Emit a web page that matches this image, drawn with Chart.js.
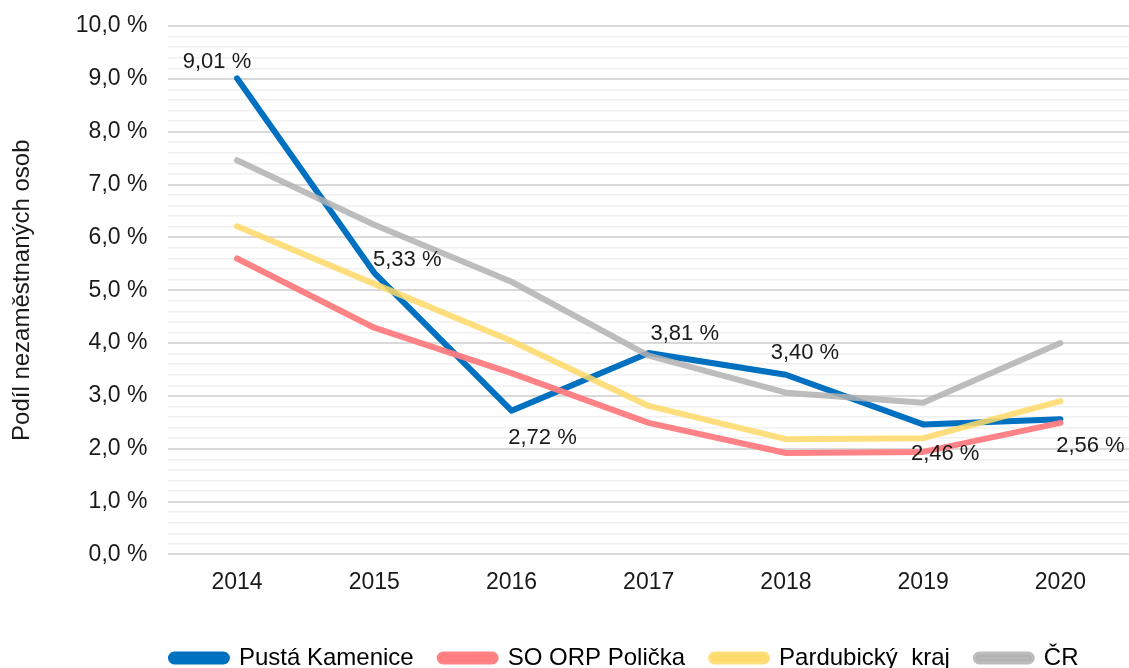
<!DOCTYPE html>
<html>
<head>
<meta charset="utf-8">
<script src="https://cdn.jsdelivr.net/npm/chart.js@4"></script>
<style>
  html, body { margin: 0; padding: 0; background: #fff; overflow: hidden; }
  #canvasContainer { width: 1129px; height: 680px; position: relative; }
</style>
</head>
<body>
<div id="canvasContainer"><canvas id="Grafica"></canvas></div>
<script>
// roky
const years = ['2014', '2015', '2016', '2017', '2018', '2019', '2020'];

// podíl nezaměstnaných osob (%)
const pustaKamenice = [9.01, 5.33, 2.72, 3.81, 3.40, 2.46, 2.56];
const soOrpPolicka = [5.60, 4.29, 3.43, 2.49, 1.92, 1.94, 2.49];
const pardubickyKraj = [6.21, 5.12, 4.04, 2.81, 2.18, 2.20, 2.90];
const cr = [7.46, 6.24, 5.16, 3.76, 3.06, 2.87, 4.00];

const seriesNames = ['Pustá Kamenice', 'SO ORP Polička', 'Pardubický  kraj', 'ČR'];

const FONT = "'Liberation Sans', Arial, sans-serif";

function fmt(v, dec){
    return v.toFixed(dec).replace('.', ',') + ' %';
}

// posun popisku od bodu (jen vzhled)
const labelShift = [[-20, -16], [33, -13], [31, 27], [36, -19], [19, -22], [22, 30], [30, 27]];

const dataLabels = {
    id: 'dataLabels',
    afterDatasetsDraw(chart){
        const ctx = chart.ctx;
        const meta = chart.getDatasetMeta(0);
        ctx.save();
        ctx.font = '22px ' + FONT;
        ctx.fillStyle = '#1a1a1a';
        ctx.textAlign = 'center';
        ctx.textBaseline = 'middle';
        meta.data.forEach((pt, i) => {
            ctx.fillText(fmt(pustaKamenice[i], 2), pt.x + labelShift[i][0], pt.y + labelShift[i][1]);
        });
        ctx.restore();
    }
};

// legenda je v originále trochu posunutá doleva
const legendShift = {
    id: 'legendShift',
    afterLayout(chart){
        chart.legend.left -= 24;
        chart.legend.right -= 24;
    }
};

function lineSet(label, data, color, order){
    return {
        label: label,
        data: data,
        borderColor: color,
        backgroundColor: color,
        borderWidth: 6,
        borderCapStyle: 'round',
        borderJoinStyle: 'round',
        pointRadius: 0,
        tension: 0,
        order: order
    };
}

const isMajor = v => Math.abs(v - Math.round(v)) < 1e-6;

new Chart(document.getElementById('Grafica').getContext('2d'), {
    type: 'line',
    data: {
        labels: years,
        datasets: [
            lineSet(seriesNames[0], pustaKamenice, '#0070C0', 3),
            lineSet(seriesNames[1], soOrpPolicka, 'rgba(255,124,128,0.95)', 2),
            lineSet(seriesNames[2], pardubickyKraj, 'rgba(255,217,102,0.85)', 1),
            lineSet(seriesNames[3], cr, 'rgba(178,178,178,0.85)', 0)
        ]
    },
    plugins: [dataLabels, legendShift],
    options: {
        responsive: true,
        maintainAspectRatio: false,
        animation: false,
        layout: { padding: { top: 0, right: 0, left: 4, bottom: 0 } },
        plugins: {
            legend: {
                position: 'bottom',
                fullSize: false,
                labels: {
                    font: { family: FONT, size: 24 },
                    color: '#000',
                    boxWidth: 56,
                    boxHeight: 7,
                    padding: 26,
                    useBorderRadius: true,
                    borderRadius: 3.5,
                    sort: (a, b) => a.datasetIndex - b.datasetIndex
                }
            },
            tooltip: { enabled: false }
        },
        scales: {
            x: {
                offset: true,
                grid: { display: false, drawTicks: false },
                border: { display: false },
                ticks: {
                    font: { family: FONT, size: 23 },
                    color: '#1a1a1a',
                    padding: 14
                },
                afterFit: axis => { axis.height += 10; }
            },
            y: {
                min: 0,
                max: 10,
                border: { display: false },
                grid: {
                    color: c => isMajor(c.tick.value) ? '#d9d9d9' : '#f0f0f0',
                    lineWidth: c => isMajor(c.tick.value) ? 2 : 1.5,
                    drawTicks: false
                },
                ticks: {
                    stepSize: 0.2,
                    autoSkip: false,
                    font: { family: FONT, size: 23 },
                    color: '#1a1a1a',
                    padding: 21,
                    callback: v => isMajor(v) ? fmt(v, 1) : ''
                },
                title: {
                    display: true,
                    text: 'Podíl nezaměstnaných osob',
                    font: { family: FONT, size: 24 },
                    color: '#1a1a1a',
                    padding: { top: 4, bottom: 18 }
                },
                afterFit: axis => { axis.paddingTop = 26; }
            }
        }
    }
});
</script>
</body>
</html>
